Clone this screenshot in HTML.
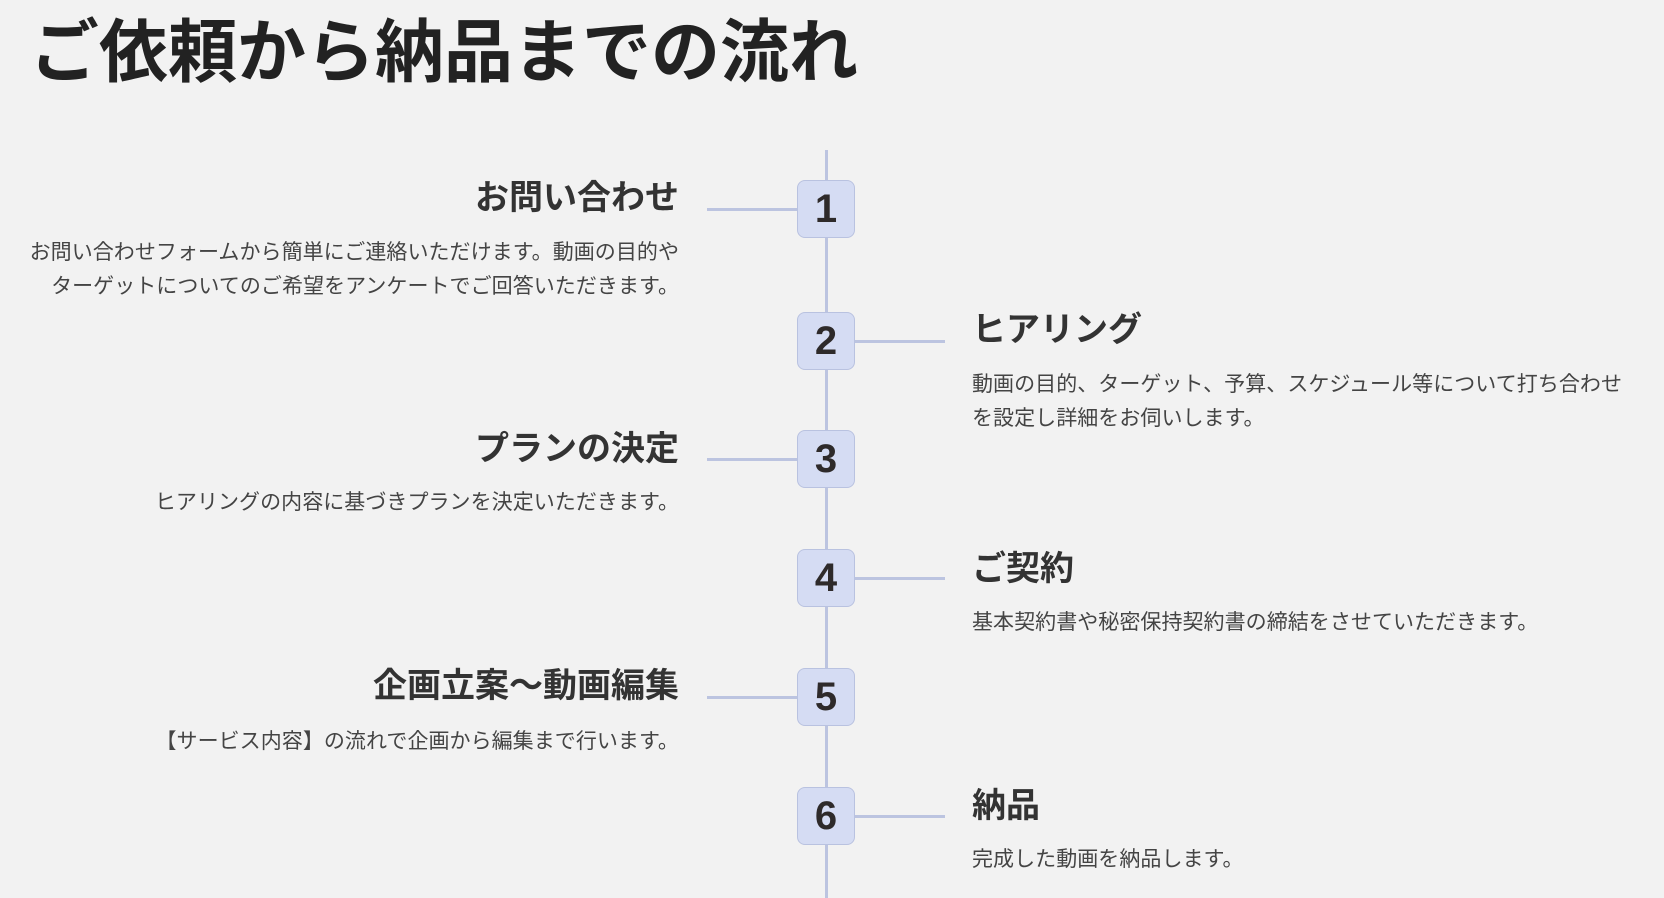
<!DOCTYPE html>
<html><head><meta charset="utf-8"><style>
body{margin:0;width:1664px;height:898px;background:#f2f2f2;position:relative;overflow:hidden;font-family:"Liberation Sans","Noto Sans CJK JP",sans-serif;}
.a{position:absolute;white-space:nowrap}
h1{position:absolute;left:30px;top:13px;margin:0;font-size:69px;line-height:80px;font-weight:700;color:#222;font-family:"Liberation Sans","Noto Sans CJK JP",sans-serif;}
.t{font-size:34px;line-height:40px;font-weight:700;color:#333}
.d{font-size:21px;line-height:34px;color:#444;letter-spacing:0.05px}
.L{right:985px;text-align:right}
.R{left:972px}
.box{position:absolute;left:797px;width:56px;height:56px;border:1.5px solid #b9c2e0;background:#d5dcf3;border-radius:8px;font-weight:700;font-size:40px;line-height:57px;text-align:center;color:#2e2a2a}
.h{position:absolute;height:3px;background:#bcc4e0}
</style></head><body>
<h1>ご依頼から納品までの流れ</h1>
<div style="position:absolute;left:825px;top:150px;width:3px;height:748px;background:#bcc4e0"></div>

<div class="h" style="left:707px;width:92px;top:208px"></div>
<div class="h" style="left:853px;width:92px;top:340px"></div>
<div class="h" style="left:707px;width:92px;top:458px"></div>
<div class="h" style="left:853px;width:92px;top:577px"></div>
<div class="h" style="left:707px;width:92px;top:696px"></div>
<div class="h" style="left:853px;width:92px;top:815px"></div>

<div class="box" style="top:180px">1</div>
<div class="box" style="top:312px">2</div>
<div class="box" style="top:430px">3</div>
<div class="box" style="top:549px">4</div>
<div class="box" style="top:668px">5</div>
<div class="box" style="top:787px">6</div>

<div class="a t L" style="top:178px">お問い合わせ</div>
<div class="a d L" style="top:236px">お問い合わせフォームから簡単にご連絡いただけます。動画の目的や<br>ターゲットについてのご希望をアンケートでご回答いただきます。</div>

<div class="a t R" style="top:310px">ヒアリング</div>
<div class="a d R" style="top:368px">動画の目的、ターゲット、予算、スケジュール等について打ち合わせ<br>を設定し詳細をお伺いします。</div>

<div class="a t L" style="top:429px">プランの決定</div>
<div class="a d L" style="top:486px">ヒアリングの内容に基づきプランを決定いただきます。</div>

<div class="a t R" style="top:549px">ご契約</div>
<div class="a d R" style="top:606px">基本契約書や秘密保持契約書の締結をさせていただきます。</div>

<div class="a t L" style="top:666px">企画立案〜動画編集</div>
<div class="a d L" style="top:725px">【サービス内容】の流れで企画から編集まで行います。</div>

<div class="a t R" style="top:786px">納品</div>
<div class="a d R" style="top:843px">完成した動画を納品します。</div>
</body></html>
